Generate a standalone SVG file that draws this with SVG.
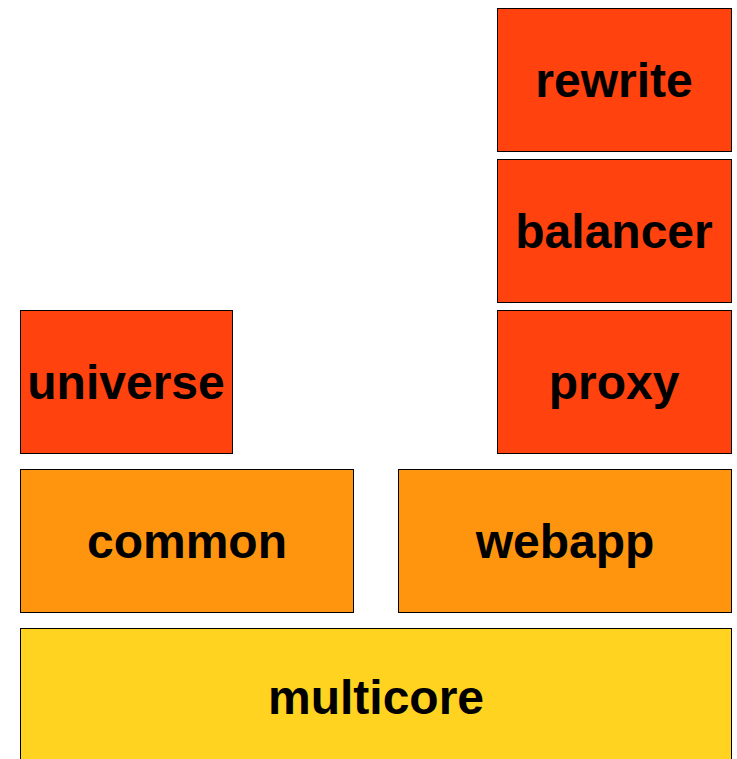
<svg xmlns="http://www.w3.org/2000/svg" width="737" height="759" viewBox="0 0 737 759">
<style>
rect{stroke:#000;stroke-width:1}
.r{fill:#ff420e}.o{fill:#ff950e}.y{fill:#ffd320}
text{font-family:"Liberation Sans",Arial,sans-serif;font-weight:bold;font-size:48px;text-anchor:middle;fill:#000}
</style>
<rect width="737" height="759" fill="#fff" style="stroke:none"/>
<g id="rewrite"><rect class="r" x="497.5" y="8.5" width="234" height="143"/><text x="614" y="97">rewrite</text></g>
<g id="balancer"><rect class="r" x="497.5" y="159.5" width="234" height="143"/><text x="614" y="248">balancer</text></g>
<g id="proxy"><rect class="r" x="497.5" y="310.5" width="234" height="143"/><text x="614" y="399">proxy</text></g>
<g id="universe"><rect class="r" x="20.5" y="310.5" width="212" height="143"/><text x="126" y="399">universe</text></g>
<g id="common"><rect class="o" x="20.5" y="469.5" width="333" height="143"/><text x="187" y="558">common</text></g>
<g id="webapp"><rect class="o" x="398.5" y="469.5" width="333" height="143"/><text x="565" y="558">webapp</text></g>
<g id="multicore"><rect class="y" x="20.5" y="628.5" width="711" height="143"/><text x="376" y="714">multicore</text></g>
<g id="connectors"/>
</svg>
